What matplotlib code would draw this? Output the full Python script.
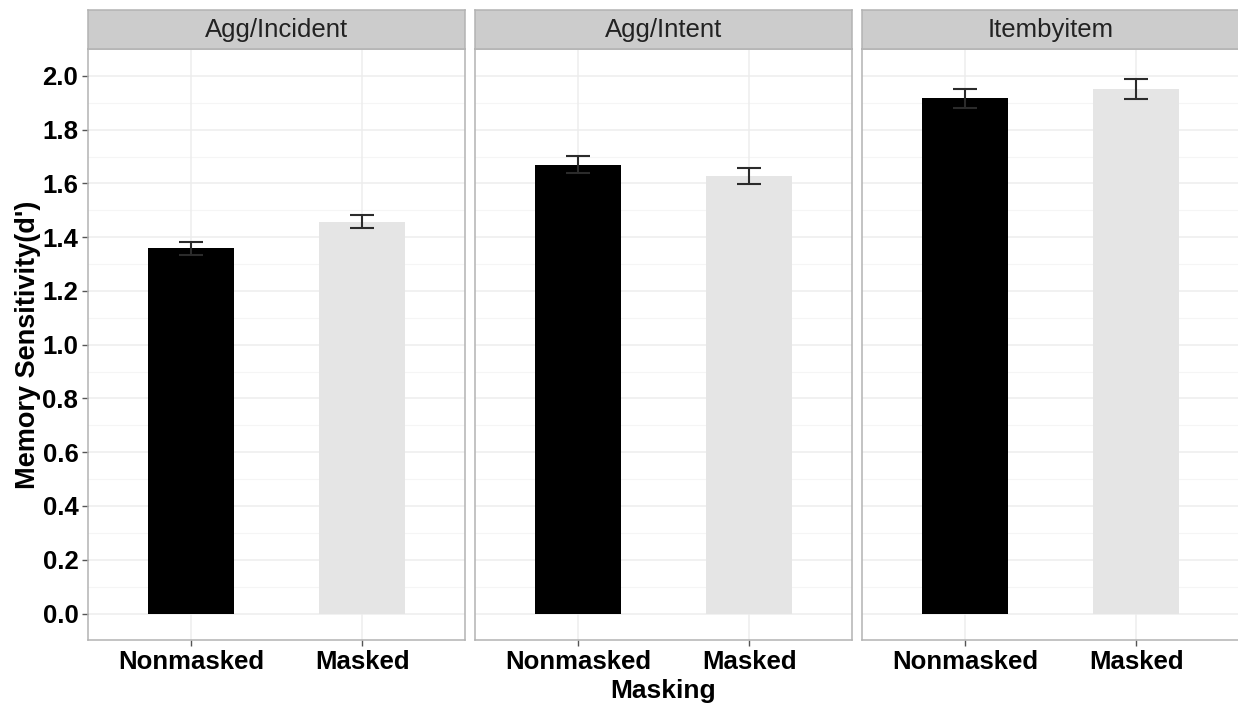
import matplotlib
matplotlib.use("Agg")
import matplotlib.pyplot as plt
import numpy as np

plt.rcParams['font.family'] = ['Liberation Sans', 'DejaVu Sans']

# Data
panels = ["Agg/Incident", "Agg/Intent", "Itembyitem"]
conditions = ["Nonmasked", "Masked"]
dprime = {
    "Agg/Incident": [1.359, 1.458],
    "Agg/Intent": [1.670, 1.627],
    "Itembyitem": [1.916, 1.952],
}
stderr = {
    "Agg/Incident": [0.024, 0.024],
    "Agg/Intent": [0.033, 0.029],
    "Itembyitem": [0.036, 0.037],
}
bar_colors = ["#000000", "#E5E5E5"]
y_ticks = [0.0, 0.2, 0.4, 0.6, 0.8, 1.0, 1.2, 1.4, 1.6, 1.8, 2.0]

W, H = 1238, 704
fig = plt.figure(figsize=(W / 100, H / 100), dpi=100)

left0 = 88
panel_w = 377
gap = 10
plot_top = 49
plot_bottom = 640
strip_top = 10

border_col = "#B3B3B3"
grid_major = "#EDEDED"
grid_minor = "#F5F5F5"

x = np.arange(1, len(conditions) + 1)

for i, name in enumerate(panels):
    x0 = left0 + i * (panel_w + gap)
    ax = fig.add_axes([x0 / W, 1 - plot_bottom / H, panel_w / W, (plot_bottom - plot_top) / H])
    ax.set_xlim(0.4, 2.6)
    ax.set_ylim(-0.0985, 2.1)

    # grid lines
    for yv in np.arange(0.1, 2.1, 0.2):
        ax.axhline(yv, color=grid_minor, lw=0.8, zorder=0)
    for yv in y_ticks:
        ax.axhline(yv, color=grid_major, lw=1.1, zorder=0)
    for xv in x:
        ax.axvline(xv, color=grid_major, lw=1.1, zorder=0)

    vals = dprime[name]
    errs = stderr[name]
    ax.bar(x, vals, width=0.5, color=bar_colors, zorder=2)
    ax.errorbar(x, vals, yerr=errs, fmt="none", ecolor="#2B2B2B",
                elinewidth=1.5, capsize=8.5, capthick=1.5, zorder=3)

    for sp in ax.spines.values():
        sp.set_color(border_col)
        sp.set_linewidth(1.1)

    ax.set_xticks(x)
    ax.set_xticklabels(conditions, fontsize=18.5, fontweight="bold", color="black")
    ax.set_yticks(y_ticks)
    ax.tick_params(axis="both", length=4, width=1.0, color="#555555", pad=3)
    if i == 0:
        ax.set_yticklabels([f"{v:.1f}" for v in y_ticks], fontsize=18.5,
                           fontweight="bold", color="black")
        ax.set_ylabel("Memory Sensitivity(d')", fontsize=19.5, fontweight="bold",
                      labelpad=1)
    else:
        ax.tick_params(axis="y", left=False, labelleft=False)
    if i == 1:
        ax.set_xlabel("Masking", fontsize=19, fontweight="bold", labelpad=4)

    # facet strip
    sax = fig.add_axes([x0 / W, 1 - plot_top / H, panel_w / W, (plot_top - strip_top) / H])
    sax.set_facecolor("#CCCCCC")
    sax.set_xticks([])
    sax.set_yticks([])
    for sp in sax.spines.values():
        sp.set_color(border_col)
        sp.set_linewidth(1.1)
    sax.text(0.5, 0.5, name, ha="center", va="center", fontsize=18.5,
             color="#222222", transform=sax.transAxes)

fig.savefig("out.png", dpi=100, facecolor="white")
